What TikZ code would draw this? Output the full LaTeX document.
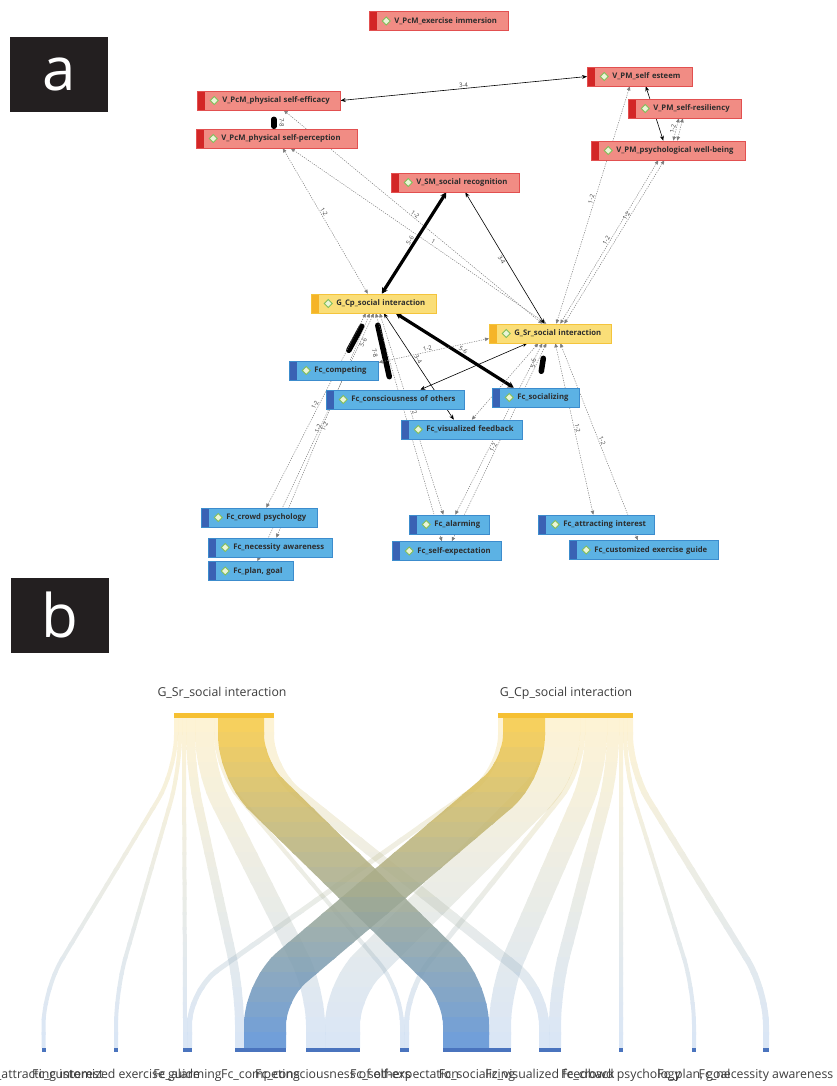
\documentclass[tikz,border=0pt]{standalone}
\usepackage{fontspec}
\setmainfont{Open Sans}
\newfontfamily\boxfont{Open Sans}
\newfontfamily\sankfont{Open Sans}
\usetikzlibrary{arrows.meta, positioning}
\pgfdeclarelayer{bg}
\pgfsetlayers{bg,main}

\definecolor{rfill}{RGB}{241,140,132}
\definecolor{rline}{RGB}{226,80,80}
\definecolor{rstripe}{RGB}{211,38,38}
\definecolor{yfill}{RGB}{250,222,120}
\definecolor{yline}{RGB}{244,196,60}
\definecolor{ystripe}{RGB}{245,180,40}
\definecolor{bfill}{RGB}{92,178,228}
\definecolor{bline}{RGB}{60,140,205}
\definecolor{bstripe}{RGB}{58,98,180}
\definecolor{icofill}{RGB}{235,245,215}
\definecolor{icoline}{RGB}{130,190,90}
\definecolor{txtgray}{RGB}{45,45,45}
\definecolor{dotgray}{RGB}{125,125,125}
\definecolor{syel}{RGB}{245,200,66}
\definecolor{sblue}{RGB}{88,142,210}
\definecolor{barblue}{RGB}{74,116,190}
\definecolor{baryel}{RGB}{246,192,50}
\definecolor{tagbg}{RGB}{35,31,32}
\definecolor{labgray}{RGB}{60,60,60}

\newcommand{\ic}{\hspace*{22pt}}

\begin{document}
\begin{tikzpicture}[x=1pt, y=-1pt,
  nbox/.style={rectangle, line width=0.6pt, minimum height=19pt, inner xsep=3pt, inner ysep=0pt,
    anchor=west, align=left, text=txtgray, font=\boxfont\bfseries\fontsize{7.7}{9}\selectfont,
    path picture={
      \fill[#1] (path picture bounding box.south west) rectangle ([xshift=8pt]path picture bounding box.north west);
      \draw[fill=icofill, draw=icoline, line width=0.8pt] ([xshift=17pt,yshift=4pt]path picture bounding box.west)
        -- ++(4pt,-4pt) -- ++(-4pt,-4pt) -- ++(-4pt,4pt) -- cycle;}},
  rnode/.style={nbox=rstripe, fill=rfill, draw=rline},
  ynode/.style={nbox=ystripe, fill=yfill, draw=yline},
  bnode/.style={nbox=bstripe, fill=bfill, draw=bline},
  dotl/.style={dotgray, line width=0.5pt, dash pattern=on 1.2pt off 1.2pt,
    {Triangle[length=4pt,width=3.5pt]}-{Triangle[length=4pt,width=3.5pt]}},
  thn/.style={black, line width=0.6pt, {Stealth[length=5pt,width=4pt]}-{Stealth[length=5pt,width=4pt]}},
  thk/.style={black, line width=3.2pt, {Stealth[length=6pt,width=6.5pt]}-{Stealth[length=6pt,width=6.5pt]}},
  blob/.style={black, line width=5.5pt, line cap=round},
  lab/.style={font=\boxfont\fontsize{6}{7}\selectfont, text=labgray, sloped, inner sep=1pt},
  tag/.style={fill=tagbg, minimum width=98pt, minimum height=75pt, inner sep=0pt, text=white,
    font=\sankfont\fontsize{60}{60}\selectfont},
  srcbar/.style={fill=baryel, minimum height=5pt, inner sep=0pt},
  tgtbar/.style={fill=barblue, minimum height=4pt, inner sep=0pt},
  slab/.style={font=\sankfont\fontsize{12.3}{14}\selectfont, text=labgray, inner sep=0pt}]

\useasboundingbox (0,0) rectangle (837,1086);

% Beschriftungen a, b
\node[tag] (taga) at (59,74.5) {a};
\node[tag] (tagb) at (60,615) {b};

% Knoten Teil a
\node[rnode, text width=133pt] (ei) at (369,21) {\mbox{\ic V\_PcM\_exercise immersion}};
\node[rnode, text width=137pt] (pse) at (197,100.5) {\mbox{\ic V\_PcM\_physical self-efficacy}};
\node[rnode, text width=155pt] (psp) at (196,138.5) {\mbox{\ic V\_PcM\_physical self-perception}};
\node[rnode, text width=99pt] (est) at (587,76.5) {\mbox{\ic V\_PM\_self esteem}};
\node[rnode, text width=107pt] (res) at (628,108.5) {\mbox{\ic V\_PM\_self-resiliency}};
\node[rnode, text width=148pt] (pwb) at (591,150.5) {\mbox{\ic V\_PM\_psychological well-being}};
\node[rnode, text width=122pt] (srec) at (391,182.5) {\mbox{\ic V\_SM\_social recognition}};
\node[ynode, text width=119pt] (gcp) at (311,303.5) {\mbox{\ic G\_Cp\_social interaction}};
\node[ynode, text width=116pt] (gsr) at (489,333.5) {\mbox{\ic G\_Sr\_social interaction}};
\node[bnode, text width=83pt] (comp) at (289,370.5) {\mbox{\ic Fc\_competing}};
\node[bnode, text width=132pt] (cons) at (326,399.5) {\mbox{\ic Fc\_consciousness of others}};
\node[bnode, text width=81pt] (soc) at (492,397.5) {\mbox{\ic Fc\_socializing}};
\node[bnode, text width=115pt] (vis) at (401,429.5) {\mbox{\ic Fc\_visualized feedback}};
\node[bnode, text width=110pt] (crowd) at (201,517.5) {\mbox{\ic Fc\_crowd psychology}};
\node[bnode, text width=118pt] (nec) at (208,547.5) {\mbox{\ic Fc\_necessity awareness}};
\node[bnode, text width=79pt] (plan) at (208,571) {\mbox{\ic Fc\_plan, goal}};
\node[bnode, text width=74pt] (alarm) at (409,524.5) {\mbox{\ic Fc\_alarming}};
\node[bnode, text width=103pt] (selfexp) at (392,551) {\mbox{\ic Fc\_self-expectation}};
\node[bnode, text width=110pt] (attr) at (538,524.5) {\mbox{\ic Fc\_attracting interest}};
\node[bnode, text width=143pt] (cust) at (569,550) {\mbox{\ic Fc\_customized exercise guide}};

\begin{pgfonlayer}{bg}
% obere Verbindungen
\draw[thn] (pse.east) -- node[lab, above, pos=0.5] {3-4} (est.west);
\draw[blob] ([xshift=5pt,yshift=-9pt]pse.south) -- node[lab, above=2pt] {7-8} ([xshift=5pt,yshift=-16pt]pse.south);
\draw[dotl] ([xshift=15pt]pse.south) -- node[lab, above, pos=0.5] {1-2} ([xshift=-8pt]gsr.north);
\draw[dotl] ([xshift=14pt]psp.south) -- node[lab, above, pos=0.55] {1} ([xshift=-4pt]gsr.north);
\draw[dotl] ([xshift=6pt]psp.south) -- node[lab, above, pos=0.45] {1-2} ([xshift=-6pt]gcp.north);
\draw[dotl] ([xshift=-10pt]est.south) -- node[lab, above, pos=0.48] {1-2} ([xshift=6pt]gsr.north);
\draw[dotl] ([xshift=-10pt]pwb.south) -- node[lab, above, pos=0.5] {1-2} ([xshift=10pt]gsr.north);
\draw[dotl] ([xshift=-4pt]pwb.south) -- node[lab, above, pos=0.35] {1-2} ([xshift=14pt]gsr.north);
\draw[thn] ([xshift=6pt]est.south) -- ([xshift=-5pt]pwb.north);
\draw[dotl] ([xshift=-6pt]res.south) -- node[lab, above, pos=0.5] {1-2} ([xshift=5pt]pwb.north);
\draw[dotl] ([xshift=-2pt]res.south) -- ([xshift=9pt]pwb.north);

% mittlere Verbindungen
\draw[thk] ([xshift=8pt]gcp.north) -- node[lab, above, pos=0.5] {5-6} ([xshift=-9pt]srec.south);
\draw[thn] ([xshift=-6pt]gsr.north) -- node[lab, below, pos=0.5] {3-4} ([xshift=10pt]srec.south);
\draw[thk] ([xshift=22pt]gcp.south) -- node[lab, above, pos=0.55] {5-6} ([xshift=-22pt]soc.north);
\draw[blob] ([xshift=-12pt,yshift=-13pt]gcp.south) -- node[lab, below=3pt] {5-6} ([xshift=-25pt,yshift=-37pt]gcp.south);
\draw[blob] ([xshift=4pt,yshift=-12pt]gcp.south) -- node[lab, below=3pt] {7-8} ([xshift=-6pt,yshift=13pt]cons.north);
\draw[thn] ([xshift=10pt]gcp.south) -- node[lab, above, pos=0.45] {3-4} ([xshift=-8pt]vis.north);
\draw[thn] ([xshift=-23pt]gsr.south) -- ([xshift=25pt]cons.north);
\draw[dotl] ([yshift=8pt]comp.east) -- node[lab, above, pos=0.45] {1-2} ([yshift=-5pt]gsr.west);
\draw[dotl] ([xshift=-12pt]gsr.south) -- ([xshift=10pt]vis.north);
\draw[blob] ([xshift=-7pt,yshift=-15pt]gsr.south) -- node[lab, above=3pt] {5-6} ([xshift=-9pt,yshift=-28pt]gsr.south);

% untere Verbindungen
\draw[dotl] ([xshift=6pt]gcp.south) -- node[lab, above, pos=0.5] {2} ([xshift=-6pt]alarm.north);
\draw[dotl] ([xshift=2pt]gcp.south) -- ([xshift=-5pt]selfexp.north);
\draw[dotl] ([xshift=-8pt]gsr.south) -- node[lab, below, pos=0.6] {1-2} ([xshift=6pt]alarm.north);
\draw[dotl] ([xshift=-4pt]gsr.south) -- ([xshift=5pt]selfexp.north);
\draw[dotl] ([xshift=-8pt]gcp.south) -- node[lab, above, pos=0.48] {1-2} ([xshift=7pt]crowd.north);
\draw[dotl] ([xshift=-4pt]gcp.south) -- node[lab, above, pos=0.52] {1-2} ([xshift=6pt]nec.north);
\draw[dotl] ([xshift=0pt]gcp.south) -- node[lab, below, pos=0.45] {1-2} ([xshift=6.5pt]plan.north);
\draw[dotl] ([xshift=5pt]gsr.south) -- node[lab, above, pos=0.5] {1-2} ([xshift=-3pt]attr.north);
\draw[dotl] ([xshift=10pt]gsr.south) -- node[lab, above, pos=0.5] {1-2} ([xshift=-6pt]cust.north);
\end{pgfonlayer}

% Teil b: Sankey
\foreach \xs/\xt/\w/\op in {176/43.5/4/0.22, 180/116/4/0.22, 184/185/4/0.22, 190.5/239.5/9/0.22,
    204.5/315.5/19/0.22, 216/402/4/0.22, 269/544/10/0.22,
    500.5/189.5/5/0.22, 562.5/342.5/35/0.22, 582.5/406.5/5/0.22, 596/500/22/0.22,
    613/555/12/0.22, 621/621/4/0.22, 625/694/4/0.22, 630/766/6/0.22,
    241/466/46/0.85, 524/265/42/0.85}{
  \begin{scope}[transparency group, opacity=\op]
    \foreach \i in {0,...,21}{
      \pgfmathsetmacro{\mx}{100*\i/21}
      \colorlet{bandc}{sblue!\mx!syel}
      \begin{scope}
        \clip (0,{717+15*\i}) rectangle (837,{734+15*\i});
        \draw[line width=\w pt, draw=bandc, rounded corners=35pt]
          (\xs,718) -- (\xs,770) -- (\xt,990) -- (\xt,1048);
      \end{scope}
    }
  \end{scope}
}

\node[srcbar, minimum width=100pt] (srbar) at (224,715.5) {};
\node[srcbar, minimum width=135pt] (cpbar) at (565.5,715.5) {};
\node[slab] (srlab) at (222,693) {G\_Sr\_social interaction};
\node[slab] (cplab) at (566,693) {G\_Cp\_social interaction};

\foreach \nm/\cx/\bw/\txt in {t1/43.5/4/Fc\_attracting interest, t2/116/4/Fc\_customized exercise guide,
    t3/187.5/9/Fc\_alarming, t4/260.5/51/Fc\_competing, t5/333/54/Fc\_consciousness of others,
    t6/404.5/9/Fc\_self-expectation, t7/477/68/Fc\_socializing, t8/550/22/Fc\_visualized feedback,
    t9/621/4/Fc\_crowd psychology, t10/694/4/{Fc\_plan, goal}, t11/766/6/Fc\_necessity awareness}{
  \node[tgtbar, minimum width=\bw pt] (\nm) at (\cx,1050) {};
  \node[slab, below=25pt of \nm.center, anchor=center] (\nm-lab) {\txt};
}
\end{tikzpicture}
\end{document}
